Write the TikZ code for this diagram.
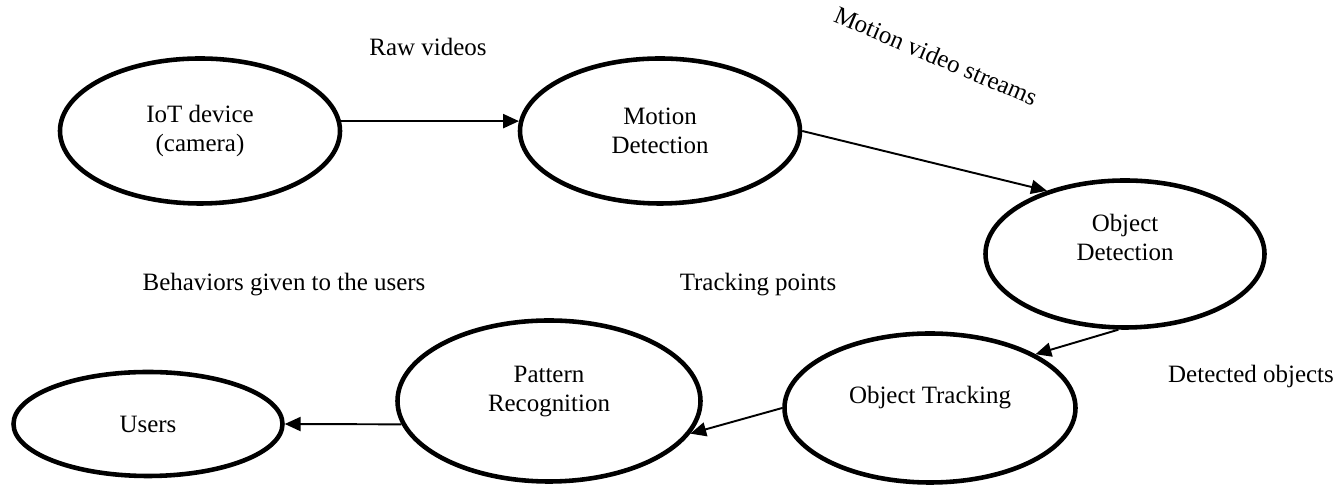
\documentclass[tikz,border=0pt]{standalone}
\usepackage{fontspec}
\setmainfont{Liberation Serif}
\usetikzlibrary{shapes.geometric,arrows.meta}

\begin{document}
\begin{tikzpicture}[
  stage/.style={draw,ellipse,line width=2.6pt,align=center,inner sep=0pt},
  flow/.style={-{Triangle[length=9pt,width=8pt]},line width=1.1pt},
  font=\fontsize{14.2}{16.5}\selectfont]
\useasboundingbox (0,0) rectangle (26.78,9.74);

%stages of the pipeline

\node[stage,minimum width=5.6cm,minimum height=2.9cm] (iot) at (4,7.12) {IoT device\\(camera)};
\node[stage,minimum width=5.6cm,minimum height=2.9cm] (motion) at (13.2,7.12) {Motion\\Detection};
\node[stage,minimum width=5.58cm,minimum height=2.94cm,text depth=19pt] (objdet) at (22.5,4.66) {Object\\Detection};
\node[stage,minimum width=5.82cm,minimum height=2.98cm,text depth=14.4pt] (track) at (18.6,1.58) {Object Tracking};
\node[stage,minimum width=6.06cm,minimum height=3.22cm,text depth=14.4pt] (pattern) at (10.98,1.72) {Pattern\\Recognition};
\node[stage,minimum width=5.38cm,minimum height=2.08cm] (users) at (2.96,1.26) {Users};

%data passed between the stages

\draw[flow] (iot.4) -- (motion.176);
\draw[flow] (motion.east) -- (objdet.141);
\draw[flow] (objdet.265) -- (track.27);
\draw[flow] (track.west) -- (pattern.-13);
\draw[flow] (pattern.189) -- (users.east);

%labels of the flows
\node (raw) at (8.56,8.8) {Raw videos};
\node[rotate=-23] (streams) at (18.72,8.62) {Motion video streams};
\node (detected) at (25.02,2.2) {Detected objects};
\node (points) at (15.16,4.04) {Tracking points};
\node (behav) at (5.68,4.04) {Behaviors given to the users};
\end{tikzpicture}
\end{document}
